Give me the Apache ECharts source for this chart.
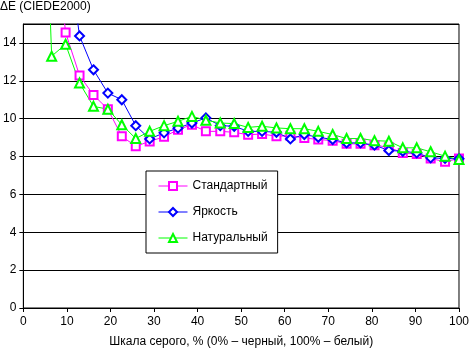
<!DOCTYPE html>
<html>
<head>
<meta charset="utf-8">
<script src="https://cdn.jsdelivr.net/npm/echarts@6/dist/echarts.min.js"></script>
<style>
  html, body { margin: 0; padding: 0; background: #fff; }
  #chart { width: 472px; height: 353px; }
</style>
</head>
<body>
<div id="chart"></div>
<script>
// Grey level, %
const grayLevels = [0, 3.2, 6.5, 9.7, 12.9, 16.1, 19.4, 22.6, 25.8, 29.0, 32.3, 35.5, 38.7, 41.9, 45.2, 48.4,
  51.6, 54.8, 58.1, 61.3, 64.5, 67.7, 71.0, 74.2, 77.4, 80.6, 83.9, 87.1, 90.3, 93.5, 96.8, 100]

// dE values per mode
const standardValues = [34, 27, 21.4, 14.55, 12.28, 11.25, 10.5, 9.07, 8.54, 8.8, 9.04, 9.42, 9.68, 9.33, 9.33, 9.28,
  9.15, 9.19, 9.07, 9.1, 8.98, 8.9, 8.84, 8.67, 8.67, 8.6, 8.49, 8.19, 8.14, 7.9, 7.72, 7.9]
const brightnessValues = [40, 33, 26, 19.8, 14.37, 12.58, 11.35, 11.0, 9.63, 8.93, 9.25, 9.5, 9.77, 10.04, 9.63, 9.6,
  9.33, 9.33, 9.28, 8.93, 9.16, 9.02, 8.9, 8.72, 8.72, 8.6, 8.32, 8.28, 8.19, 7.93, 7.9, 7.88]
const naturalValues = [40, 34, 13.3, 13.93, 11.88, 10.65, 10.5, 9.68, 8.95, 9.33, 9.63, 9.86, 10.12, 9.92, 9.77, 9.74,
  9.54, 9.6, 9.51, 9.47, 9.47, 9.33, 9.16, 8.95, 8.95, 8.84, 8.81, 8.46, 8.46, 8.25, 8.02, 7.84]

const seriesNames = ['Стандартный', 'Яркость', 'Натуральный']
const seriesColors = ['#ff00ff', '#0000ff', '#00ff00']

const font = 'Arial, "Liberation Sans", sans-serif'

const toPairs = values => grayLevels.map((x, i) => [x, values[i]])

const makeSeries = (name, values, color, symbol, size) => ({
  name,
  type: 'line',
  data: toPairs(values),
  symbol,
  symbolSize: size,
  showAllSymbol: true,
  clip: true,
  animation: false,
  lineStyle: { color, width: 1 },
  itemStyle: { color, borderWidth: 1 },
})

const chart = echarts.init(document.getElementById('chart'), null, { renderer: 'canvas' })

const option = {
  backgroundColor: '#fff',
  animation: false,
  textStyle: { fontFamily: font },
  title: {
    text: 'ΔE (CIEDE2000)',
    left: 0,
    top: 1,
    padding: 0,
    textStyle: { fontFamily: font, fontSize: 12, fontWeight: 'normal', color: '#000' },
  },
  legend: {
    orient: 'vertical',
    left: 146,
    top: 171,
    padding: [9, 10, 9, 12],
    itemGap: 14,
    itemWidth: 29,
    itemHeight: 10,
    borderColor: '#000',
    borderWidth: 1,
    backgroundColor: '#fff',
    itemStyle: { borderWidth: 1 },
    lineStyle: { width: 1 },
    textStyle: { fontFamily: font, fontSize: 12, color: '#000' },
    data: seriesNames,
  },
  grid: {
    left: 22,
    right: 10,
    top: 24,
    bottom: 44,
    show: true,
    borderColor: '#000',
    borderWidth: 1,
  },
  xAxis: {
    type: 'value',
    min: 0,
    max: 100,
    interval: 10,
    name: 'Шкала серого, % (0% – черный, 100% – белый)',
    nameLocation: 'middle',
    nameGap: 28,
    nameTextStyle: { fontFamily: font, fontSize: 12, color: '#000' },
    axisLine: { show: true, lineStyle: { color: '#000', width: 1 } },
    axisTick: { show: true, inside: false, length: 4, lineStyle: { color: '#000' } },
    axisLabel: { fontFamily: font, fontSize: 12, color: '#000', margin: 8 },
    splitLine: { show: false },
  },
  yAxis: {
    type: 'value',
    min: 0,
    max: 15,
    interval: 2,
    axisLine: { show: true, lineStyle: { color: '#000', width: 1 } },
    axisTick: { show: true, inside: false, length: 4, lineStyle: { color: '#000' } },
    axisLabel: { fontFamily: font, fontSize: 12, color: '#000', margin: 7, showMaxLabel: false },
    splitLine: { show: true, lineStyle: { color: '#000', width: 1 } },
  },
  series: [
    makeSeries(seriesNames[0], standardValues, seriesColors[0], 'emptyRect', 8),
    makeSeries(seriesNames[1], brightnessValues, seriesColors[1], 'emptyDiamond', 9),
    makeSeries(seriesNames[2], naturalValues, seriesColors[2], 'emptyTriangle', 9),
  ],
}

chart.setOption(option)
</script>
</body>
</html>
